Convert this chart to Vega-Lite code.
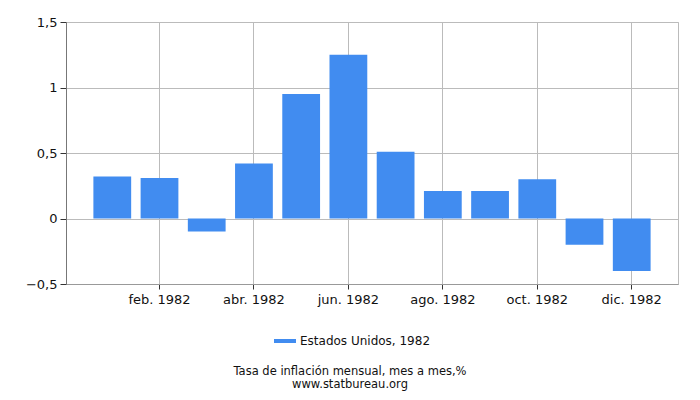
{
  "$schema": "https://vega.github.io/schema/vega-lite/v6.json",
  "autosize": {"type": "none"},
  "padding": {"left": 66, "top": 22, "right": 22, "bottom": 116},
  "width": 612,
  "height": 262,
  "background": "white",
  "config": {
    "font": "DejaVu Sans",
    "view": {"stroke": "#bbbbbb"}
  },
  "title": {
    "text": "Tasa de inflación mensual, mes a mes,%",
    "subtitle": "www.statbureau.org",
    "orient": "bottom",
    "anchor": "middle",
    "fontSize": 11.5,
    "subtitleFontSize": 11.5,
    "fontWeight": "normal",
    "color": "#111111",
    "subtitleColor": "#111111",
    "subtitlePadding": 1,
    "dx": -22,
    "offset": 19
  },
  "data": {
    "values": [
      {"month": "ene. 1982", "value": 0.32, "series": "Estados Unidos, 1982"},
      {"month": "feb. 1982", "value": 0.31, "series": "Estados Unidos, 1982"},
      {"month": "mar. 1982", "value": -0.10, "series": "Estados Unidos, 1982"},
      {"month": "abr. 1982", "value": 0.42, "series": "Estados Unidos, 1982"},
      {"month": "may. 1982", "value": 0.95, "series": "Estados Unidos, 1982"},
      {"month": "jun. 1982", "value": 1.25, "series": "Estados Unidos, 1982"},
      {"month": "jul. 1982", "value": 0.51, "series": "Estados Unidos, 1982"},
      {"month": "ago. 1982", "value": 0.21, "series": "Estados Unidos, 1982"},
      {"month": "sep. 1982", "value": 0.21, "series": "Estados Unidos, 1982"},
      {"month": "oct. 1982", "value": 0.30, "series": "Estados Unidos, 1982"},
      {"month": "nov. 1982", "value": -0.20, "series": "Estados Unidos, 1982"},
      {"month": "dic. 1982", "value": -0.40, "series": "Estados Unidos, 1982"}
    ]
  },
  "mark": {"type": "bar"},
  "encoding": {
    "x": {
      "field": "month",
      "type": "ordinal",
      "sort": null,
      "scale": {"paddingInner": 0.2, "paddingOuter": 0.58},
      "axis": {
        "title": null,
        "values": ["feb. 1982", "abr. 1982", "jun. 1982", "ago. 1982", "oct. 1982", "dic. 1982"],
        "bandPosition": 0.5,
        "grid": true,
        "gridColor": "#bbbbbb",
        "domainColor": "#999999",
        "tickColor": "#333333",
        "tickSize": 5,
        "labelAngle": 0,
        "labelFontSize": 13,
        "labelColor": "#111111",
        "labelPadding": 4
      }
    },
    "y": {
      "field": "value",
      "type": "quantitative",
      "scale": {"domain": [-0.5, 1.5], "nice": false, "zero": false},
      "axis": {
        "title": null,
        "values": [-0.5, 0, 0.5, 1, 1.5],
        "labelExpr": "replace(format(datum.value, '~g'), '.', ',')",
        "grid": true,
        "gridColor": "#bbbbbb",
        "domainColor": "#777777",
        "tickColor": "#333333",
        "tickSize": 6,
        "labelFontSize": 13,
        "labelColor": "#111111",
        "labelPadding": 3
      }
    },
    "color": {
      "field": "series",
      "type": "nominal",
      "scale": {"range": ["#418CF0"]},
      "legend": {
        "title": null,
        "orient": "none",
        "legendX": 208,
        "legendY": 308,
        "direction": "horizontal",
        "symbolType": "M-1,-0.18L1,-0.18L1,0.18L-1,0.18Z",
        "symbolSize": 484,
        "symbolStrokeWidth": 0,
        "labelFontSize": 12,
        "labelColor": "#111111"
      }
    }
  }
}
